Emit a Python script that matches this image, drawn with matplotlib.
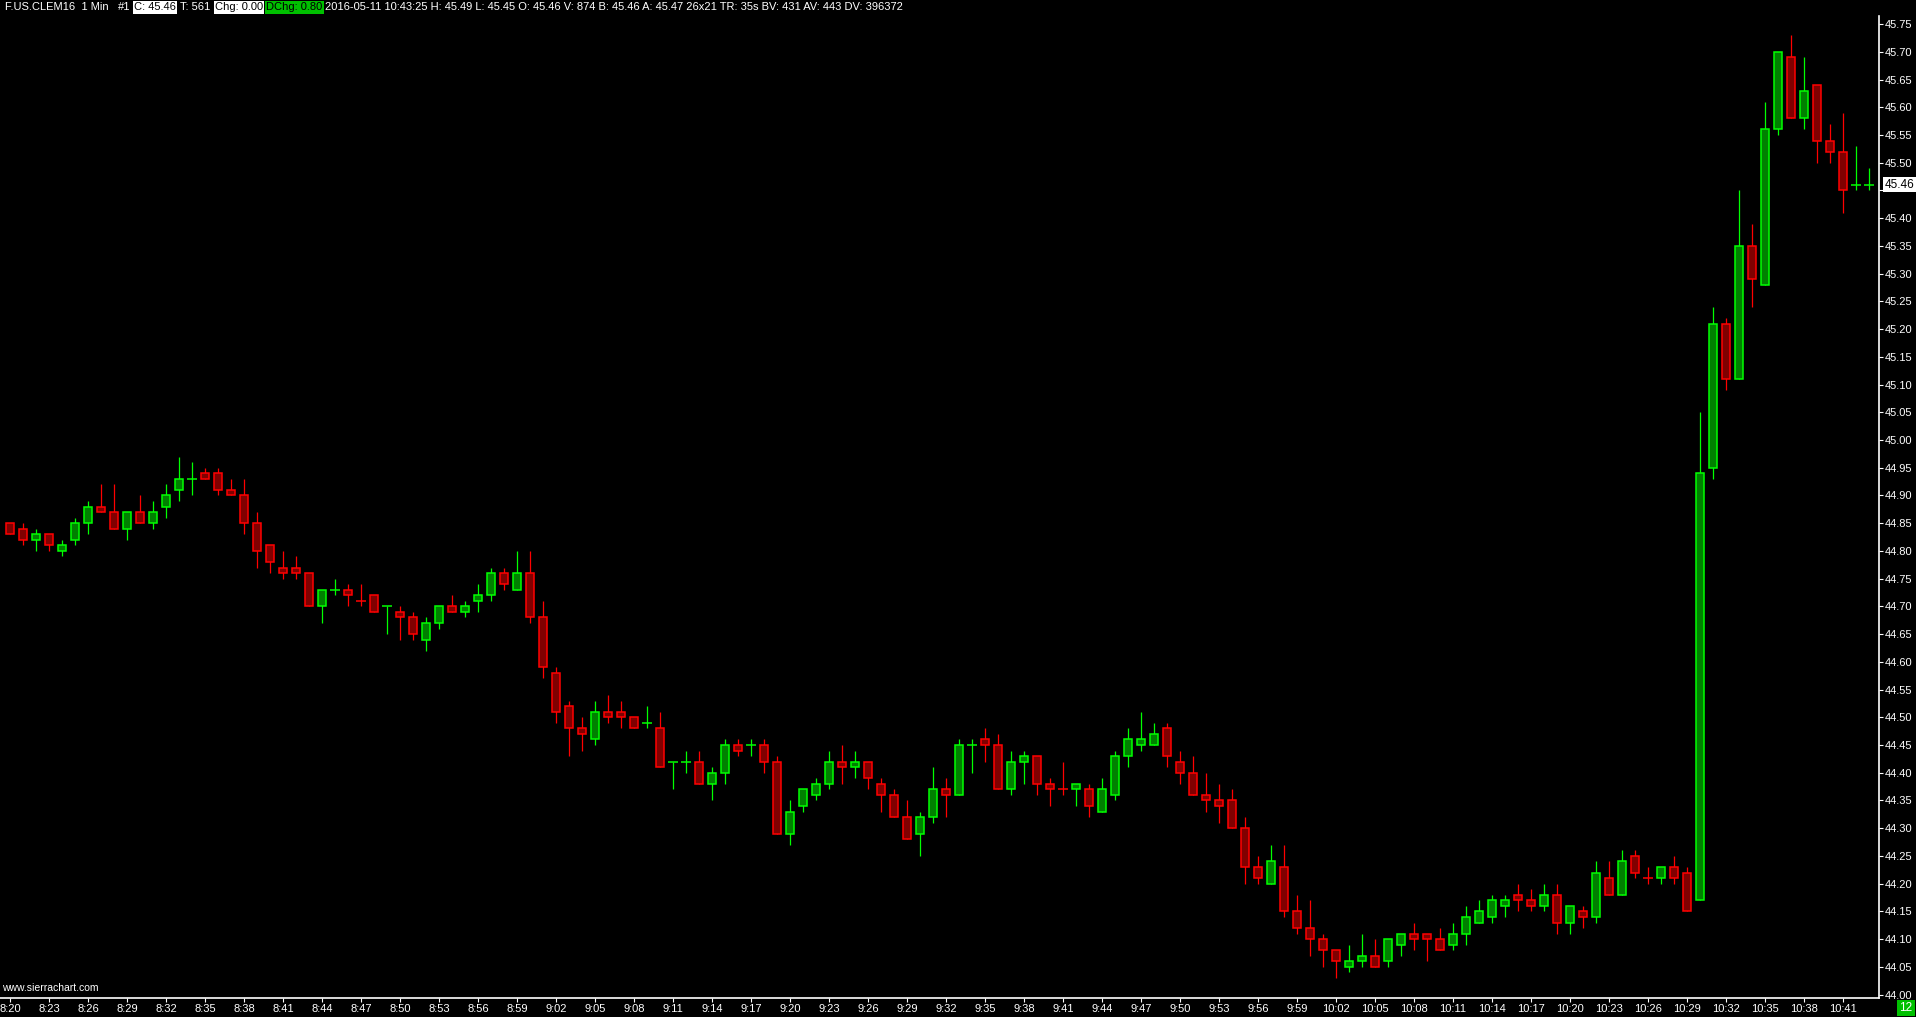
import matplotlib
matplotlib.use("Agg")
import matplotlib.pyplot as plt
import numpy as np

plt.rcParams['font.family'] = ['Liberation Sans', 'DejaVu Sans']

# 1 minute bars, 8:20 .. 10:43
opens = [44.85, 44.84, 44.82, 44.83, 44.80, 44.82, 44.85, 44.88, 44.87, 44.84,
         44.87, 44.85, 44.88, 44.91, 44.93, 44.94, 44.94, 44.91, 44.90, 44.85,
         44.81, 44.77, 44.77, 44.76, 44.70, 44.73, 44.73, 44.71, 44.72, 44.70,
         44.69, 44.68, 44.64, 44.67, 44.70, 44.69, 44.71, 44.72, 44.76, 44.73,
         44.76, 44.68, 44.58, 44.52, 44.48, 44.46, 44.51, 44.51, 44.50, 44.49,
         44.48, 44.42, 44.42, 44.42, 44.38, 44.40, 44.45, 44.45, 44.45, 44.42,
         44.29, 44.34, 44.36, 44.38, 44.42, 44.41, 44.42, 44.38, 44.36, 44.32,
         44.29, 44.32, 44.37, 44.36, 44.45, 44.46, 44.45, 44.37, 44.42, 44.43,
         44.38, 44.37, 44.37, 44.37, 44.33, 44.36, 44.43, 44.45, 44.45, 44.48,
         44.42, 44.40, 44.36, 44.35, 44.35, 44.30, 44.23, 44.20, 44.23, 44.15,
         44.12, 44.10, 44.08, 44.05, 44.06, 44.07, 44.06, 44.09, 44.11, 44.11,
         44.10, 44.09, 44.11, 44.13, 44.14, 44.16, 44.18, 44.17, 44.16, 44.18,
         44.13, 44.15, 44.14, 44.21, 44.18, 44.25, 44.21, 44.21, 44.23, 44.22,
         44.17, 44.95, 45.21, 45.11, 45.35, 45.28, 45.56, 45.69, 45.58, 45.64,
         45.54, 45.52, 45.46, 45.46]
highs = [44.85, 44.85, 44.84, 44.83, 44.82, 44.86, 44.89, 44.92, 44.92, 44.87,
         44.90, 44.89, 44.92, 44.97, 44.96, 44.95, 44.95, 44.93, 44.93, 44.87,
         44.81, 44.80, 44.79, 44.76, 44.73, 44.75, 44.74, 44.74, 44.72, 44.70,
         44.70, 44.69, 44.68, 44.70, 44.72, 44.71, 44.74, 44.77, 44.77, 44.80,
         44.80, 44.71, 44.59, 44.53, 44.50, 44.53, 44.54, 44.53, 44.50, 44.52,
         44.51, 44.42, 44.44, 44.44, 44.41, 44.46, 44.46, 44.46, 44.46, 44.43,
         44.35, 44.37, 44.39, 44.44, 44.45, 44.44, 44.42, 44.39, 44.37, 44.35,
         44.33, 44.41, 44.39, 44.46, 44.46, 44.48, 44.47, 44.44, 44.44, 44.43,
         44.39, 44.42, 44.38, 44.38, 44.39, 44.44, 44.48, 44.51, 44.49, 44.49,
         44.44, 44.43, 44.40, 44.38, 44.37, 44.32, 44.25, 44.27, 44.27, 44.18,
         44.17, 44.11, 44.08, 44.09, 44.11, 44.10, 44.10, 44.11, 44.13, 44.11,
         44.12, 44.13, 44.16, 44.17, 44.18, 44.18, 44.20, 44.19, 44.20, 44.20,
         44.16, 44.16, 44.24, 44.24, 44.26, 44.26, 44.23, 44.23, 44.25, 44.23,
         45.05, 45.24, 45.22, 45.45, 45.39, 45.61, 45.70, 45.73, 45.69, 45.64,
         45.57, 45.59, 45.53, 45.49]
lows = [44.83, 44.81, 44.80, 44.80, 44.79, 44.81, 44.83, 44.87, 44.84, 44.82,
        44.85, 44.84, 44.86, 44.89, 44.90, 44.93, 44.90, 44.90, 44.83, 44.77,
        44.76, 44.75, 44.75, 44.70, 44.67, 44.72, 44.70, 44.70, 44.69, 44.65,
        44.64, 44.64, 44.62, 44.66, 44.69, 44.68, 44.69, 44.71, 44.73, 44.73,
        44.67, 44.57, 44.49, 44.43, 44.44, 44.45, 44.49, 44.48, 44.48, 44.48,
        44.41, 44.37, 44.40, 44.38, 44.35, 44.38, 44.43, 44.43, 44.40, 44.29,
        44.27, 44.33, 44.35, 44.37, 44.38, 44.39, 44.37, 44.33, 44.32, 44.28,
        44.25, 44.31, 44.32, 44.36, 44.40, 44.42, 44.37, 44.36, 44.38, 44.36,
        44.34, 44.36, 44.34, 44.32, 44.33, 44.35, 44.41, 44.44, 44.45, 44.41,
        44.38, 44.36, 44.33, 44.31, 44.30, 44.20, 44.20, 44.20, 44.14, 44.11,
        44.07, 44.05, 44.03, 44.04, 44.05, 44.05, 44.05, 44.07, 44.08, 44.06,
        44.08, 44.08, 44.09, 44.13, 44.13, 44.14, 44.15, 44.15, 44.15, 44.11,
        44.11, 44.12, 44.13, 44.18, 44.18, 44.21, 44.20, 44.20, 44.20, 44.15,
        44.17, 44.93, 45.09, 45.11, 45.24, 45.28, 45.55, 45.58, 45.56, 45.50,
        45.50, 45.41, 45.45, 45.45]
closes = [44.83, 44.82, 44.83, 44.81, 44.81, 44.85, 44.88, 44.87, 44.84, 44.87,
          44.85, 44.87, 44.90, 44.93, 44.93, 44.93, 44.91, 44.90, 44.85, 44.80,
          44.78, 44.76, 44.76, 44.70, 44.73, 44.73, 44.72, 44.71, 44.69, 44.70,
          44.68, 44.65, 44.67, 44.70, 44.69, 44.70, 44.72, 44.76, 44.74, 44.76,
          44.68, 44.59, 44.51, 44.48, 44.47, 44.51, 44.50, 44.50, 44.48, 44.49,
          44.41, 44.42, 44.42, 44.38, 44.40, 44.45, 44.44, 44.45, 44.42, 44.29,
          44.33, 44.37, 44.38, 44.42, 44.41, 44.42, 44.39, 44.36, 44.32, 44.28,
          44.32, 44.37, 44.36, 44.45, 44.45, 44.45, 44.37, 44.42, 44.43, 44.38,
          44.37, 44.37, 44.38, 44.34, 44.37, 44.43, 44.46, 44.46, 44.47, 44.43,
          44.40, 44.36, 44.35, 44.34, 44.30, 44.23, 44.21, 44.24, 44.15, 44.12,
          44.10, 44.08, 44.06, 44.06, 44.07, 44.05, 44.10, 44.11, 44.10, 44.10,
          44.08, 44.11, 44.14, 44.15, 44.17, 44.17, 44.17, 44.16, 44.18, 44.13,
          44.16, 44.14, 44.22, 44.18, 44.24, 44.22, 44.21, 44.23, 44.21, 44.15,
          44.94, 45.21, 45.11, 45.35, 45.29, 45.56, 45.70, 45.58, 45.63, 45.54,
          45.52, 45.45, 45.46, 45.46]

time_labels = ['8:20', '8:23', '8:26', '8:29', '8:32', '8:35', '8:38', '8:41', '8:44', '8:47',
               '8:50', '8:53', '8:56', '8:59', '9:02', '9:05', '9:08', '9:11', '9:14', '9:17',
               '9:20', '9:23', '9:26', '9:29', '9:32', '9:35', '9:38', '9:41', '9:44', '9:47',
               '9:50', '9:53', '9:56', '9:59', '10:02', '10:05', '10:08', '10:11', '10:14', '10:17',
               '10:20', '10:23', '10:26', '10:29', '10:32', '10:35', '10:38', '10:41']
price_ticks = np.round(np.arange(44.00, 45.751, 0.05), 2)
last_price = 45.46

GREEN, GREEN_FILL = '#00ff00', '#008000'
RED, RED_FILL = '#ff0000', '#800000'

W, H = 1916, 1017
fig = plt.figure(figsize=(W / 100, H / 100), dpi=100, facecolor='black')
ax = fig.add_axes([0, 19 / H, 1879 / W, (998 - 16) / H], facecolor='black')

n = len(closes)
x = np.arange(n)
o = np.array(opens); h = np.array(highs); l = np.array(lows); c = np.array(closes)

# colour: up if close > open; doji follows previous close / previous colour
up = np.zeros(n, dtype=bool)
for i in range(n):
    if c[i] > o[i]:
        up[i] = True
    elif c[i] < o[i]:
        up[i] = False
    elif i == 0:
        up[i] = True
    elif c[i] > c[i - 1]:
        up[i] = True
    elif c[i] < c[i - 1]:
        up[i] = False
    else:
        up[i] = up[i - 1]

edge = np.where(up, GREEN, RED)
fill = np.where(up, GREEN_FILL, RED_FILL)
bw = 0.62

ax.vlines(x, l, h, colors=edge, linewidth=0.9, zorder=2)
body = o != c
bot = np.minimum(o, c)
ax.bar(x[body], (np.abs(c - o))[body], bottom=bot[body], width=bw,
       color=fill[body], edgecolor=edge[body], linewidth=1.1, zorder=3)
ax.hlines(c[~body], x[~body] - bw / 2 - 0.05, x[~body] + bw / 2 + 0.05,
          colors=edge[~body], linewidth=1.1, zorder=3)

ax.set_xlim(-10 / 13, (1879 - 10) / 13)
ax.set_ylim(45.50 - (998 - 162.7) / 554.6, 45.50 + (162.7 - 16) / 554.6)

for s in ['left', 'top']:
    ax.spines[s].set_visible(False)
for s in ['right', 'bottom']:
    ax.spines[s].set_color('white')
    ax.spines[s].set_linewidth(1.2)

ax.yaxis.tick_right()
ax.set_yticks(price_ticks)
# the 45.45 label sits under the last-price box in the reference
ax.set_yticklabels(['' if abs(p - 45.45) < 1e-6 else f'{p:.2f}' for p in price_ticks])
ax.tick_params(axis='y', colors='white', labelcolor='white', length=3, width=0.8,
               pad=1, labelsize=8)
ax.set_xticks(np.arange(0, n, 3))
ax.set_xticklabels(time_labels)
ax.tick_params(axis='x', colors='white', labelcolor='white', length=3, width=0.8,
               pad=1, labelsize=8)

# last price marker
ax.annotate(f'{last_price:.2f}', xy=(1.0, last_price), xycoords=('axes fraction', 'data'),
            xytext=(4, 0), textcoords='offset points', va='center', ha='left',
            fontsize=8.5, color='black', zorder=10, annotation_clip=False,
            bbox=dict(boxstyle='square,pad=0.12', fc='white', ec='none'))

# header line
hy = 1 - 7.5 / H
def head(px, s, fc=None, color='white'):
    kw = {}
    if fc:
        kw['bbox'] = dict(boxstyle='square,pad=0.12', fc=fc, ec='none')
    fig.text(px / W, hy, s, color=color, fontsize=8, va='center', ha='left', **kw)

head(5, 'F.US.CLEM16  1 Min')
head(118, '#1')
head(134, 'C: 45.46', fc='white', color='black')
head(180, 'T: 561')
head(215, 'Chg: 0.00', fc='white', color='black')
head(266, 'DChg: 0.80', fc='#00c000', color='black')
head(325, '2016-05-11 10:43:25 H: 45.49 L: 45.45 O: 45.46 V: 874 B: 45.46 A: 45.47 '
          '26x21 TR: 35s BV: 431 AV: 443 DV: 396372')

fig.text(2 / W, 1 - 988 / H, 'www.sierrachart.com', color='white', fontsize=7.5,
         va='center', ha='left')
fig.text(1906 / W, 1 - 1008 / H, '12', color='white', fontsize=8.5, va='center', ha='center',
         bbox=dict(boxstyle='square,pad=0.2', fc='#00c000', ec='none'))

fig.savefig('out.png', dpi=100, facecolor='black')
